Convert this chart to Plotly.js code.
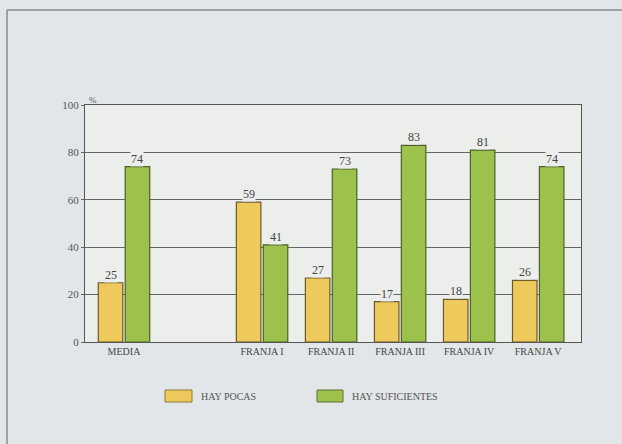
<!DOCTYPE html>
<html>
<head>
<meta charset="utf-8">
<script src="https://cdn.plot.ly/plotly-3.0.1.min.js"></script>
<style>html,body{margin:0;padding:0;background:#f1efea;}#chart{width:622px;height:444px;}</style>
</head>
<body>
<div id="chart"></div>
<script>
const categories = ["MEDIA", "FRANJA I", "FRANJA II", "FRANJA III", "FRANJA IV", "FRANJA V"];
const positions = [0, 2, 3, 4, 5, 6];
const hayPocas = [25, 59, 27, 17, 18, 26];
const haySuficientes = [74, 41, 73, 83, 81, 74];
const yTicks = [0, 20, 40, 60, 80, 100];
const seriesNames = ["HAY POCAS", "HAY SUFICIENTES"];

const yellow = "#eec95c", green = "#9dc24b";
const serif = "Liberation Serif, DejaVu Serif, serif";
const plotBg = "#eceeec";

const traces = [
  {type: "bar", x: positions, y: hayPocas, name: seriesNames[0],
   marker: {color: yellow, line: {color: "#6b5a28", width: 1.2}}, hoverinfo: "none"},
  {type: "bar", x: positions, y: haySuficientes, name: seriesNames[1],
   marker: {color: green, line: {color: "#4d5f28", width: 1.2}}, hoverinfo: "none"}
];

const groupHalf = 0.39, barOff = 0.195;
const annotations = [];
positions.forEach((p, i) => {
  annotations.push({x: p - barOff, y: hayPocas[i], xref: "x", yref: "y", text: String(hayPocas[i]),
    showarrow: false, yanchor: "bottom", yshift: 0, bgcolor: plotBg, borderpad: 0,
    font: {family: serif, size: 12, color: "#444"}});
  annotations.push({x: p + barOff, y: haySuficientes[i], xref: "x", yref: "y", text: String(haySuficientes[i]),
    showarrow: false, yanchor: "bottom", yshift: 0, bgcolor: plotBg, borderpad: 0,
    font: {family: serif, size: 12, color: "#444"}});
});
annotations.push({x: 0, y: 100, xref: "paper", yref: "y", text: "%", showarrow: false,
  xanchor: "left", yanchor: "bottom", xshift: 2, yshift: -2, font: {family: serif, size: 9, color: "#555"}});

// manual legend
const legendItems = [
  {x0: 165, x1: 192, tx: 199, color: yellow, line: "#8a7a3a", label: seriesNames[0]},
  {x0: 317, x1: 343, tx: 350, color: green, line: "#5d6e35", label: seriesNames[1]}
];
const shapes = [
  {type: "line", xref: "paper", yref: "paper", x0: -78/496, x1: -78/496, y0: -1, y1: (444-10-102)/237, line: {color: "#8a8c8c", width: 1.5}},
  {type: "line", xref: "paper", yref: "paper", x0: -78/496, x1: 2, y0: (444-10-102)/237, y1: (444-10-102)/237, line: {color: "#8a8c8c", width: 1.5}}
];
legendItems.forEach(it => {
  shapes.push({type: "rect", xref: "paper", yref: "paper",
    x0: (it.x0 - 85)/496, x1: (it.x1 - 85)/496,
    y0: (342 - 402)/237, y1: (342 - 390)/237,
    fillcolor: it.color, line: {color: it.line, width: 1}});
  annotations.push({xref: "paper", yref: "paper", x: (it.tx - 85)/496, y: (342 - 396)/237,
    text: it.label, showarrow: false, xanchor: "left", yanchor: "middle",
    font: {family: serif, size: 10, color: "#555"}});
});

const layout = {
  width: 622, height: 444,
  margin: {l: 85, r: 41, t: 105, b: 102},
  paper_bgcolor: "#e2e6e8",
  plot_bgcolor: plotBg,
  barmode: "group", bargap: 0.22, bargroupgap: 0.09,
  showlegend: false,
  xaxis: {range: [-0.565, 6.62], tickvals: positions, ticktext: categories,
    showgrid: false, zeroline: false, showline: true, mirror: true, linecolor: "#555", linewidth: 1,
    ticks: "", tickfont: {family: serif, size: 10, color: "#444"}, fixedrange: true},
  yaxis: {range: [0, 100], tickvals: yTicks, showgrid: true, gridcolor: "#666", gridwidth: 1,
    zeroline: false, showline: true, mirror: true, linecolor: "#555", linewidth: 1,
    ticks: "outside", ticklen: 3, tickcolor: "#666",
    tickfont: {family: serif, size: 11, color: "#555"}, fixedrange: true},
  annotations: annotations,
  shapes: shapes
};

Plotly.newPlot("chart", traces, layout, {staticPlot: true, displayModeBar: false});
</script>
</body>
</html>
